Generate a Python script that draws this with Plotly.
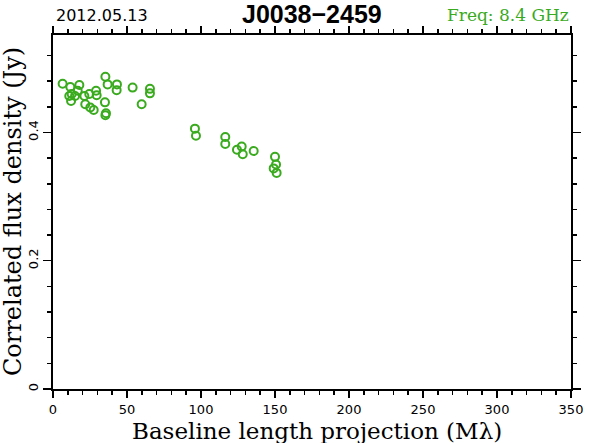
import plotly.graph_objects as go

# Baseline length projection (Mlambda)
baseline = [6.5, 11.7, 17.8, 16.7, 11.0, 12.6, 14.9, 12.2, 21.2, 24.5, 21.8, 25.2,
            27.5, 29.1, 29.5, 35.4, 36.9, 43.2, 43.0, 35.1, 35.8, 35.4, 53.8, 65.5,
            65.5, 59.9,
            95.9, 96.6, 116.4, 116.4, 124.3, 127.5, 128.2, 135.6, 150.0, 150.7,
            149.1, 151.1]
# Correlated flux density (Jy)
flux = [0.476, 0.471, 0.474, 0.465, 0.457, 0.460, 0.457, 0.449, 0.457, 0.460, 0.444, 0.439,
        0.435, 0.465, 0.458, 0.487, 0.475, 0.475, 0.466, 0.447, 0.430, 0.427, 0.470, 0.468,
        0.461, 0.444,
        0.406, 0.395, 0.393, 0.382, 0.373, 0.378, 0.366, 0.371, 0.362, 0.350,
        0.344, 0.337]

x_ticks = [0, 50, 100, 150, 200, 250, 300, 350]
y_ticks = [0, 0.2, 0.4]
y_tick_labels = ["0", "0.2", "0.4"]

GREEN = "#3aaa1e"
SERIF = "DejaVu Serif"
SANS = "DejaVu Sans"

fig = go.Figure()
fig.add_trace(go.Scatter(
    x=baseline, y=flux, mode="markers",
    marker=dict(symbol="circle-open", size=8, color=GREEN,
                line=dict(width=2, color=GREEN)),
    showlegend=False, hoverinfo="skip",
))

axis_common = dict(
    showline=True, linecolor="black", linewidth=2, mirror="ticks",
    ticks="outside", tickcolor="black", tickwidth=1.5,
    showgrid=False, zeroline=False, automargin=False,
    tickfont=dict(family=SANS, size=13, color="black"),
)

fig.update_xaxes(
    range=[0, 350], tickvals=x_ticks, ticklen=7,
    minor=dict(dtick=10, tick0=0, ticks="outside", ticklen=4, tickwidth=1.5,
               tickcolor="black", showgrid=False),
    **axis_common,
)
fig.update_yaxes(
    range=[0, 0.552], tickvals=y_ticks, ticktext=y_tick_labels, ticklen=8,
    tickangle=-90,
    minor=dict(dtick=0.04, tick0=0, ticks="outside", ticklen=4, tickwidth=1.5,
               tickcolor="black", showgrid=False),
    **axis_common,
)

fig.update_layout(
    width=590, height=443,
    margin=dict(l=53, r=19, t=35, b=54, autoexpand=False),
    paper_bgcolor="white", plot_bgcolor="white",
)

# convert pixel positions to paper coords relative to plot area
pl, pr, pt, pb = 53, 571, 35, 389
def ax(xpix):
    return (xpix - pl) / (pr - pl)
def ay(ypix):
    return (pb - ypix) / (pb - pt)

fig.add_annotation(text="<b>J0038\u22122459</b>", x=ax(312), y=ay(14), xref="paper", yref="paper",
                   showarrow=False, font=dict(family="Liberation Sans", size=25, color="black"),
                   xanchor="center", yanchor="middle")
fig.add_annotation(text="2012.05.13", x=ax(54), y=ay(15), xref="paper", yref="paper",
                   showarrow=False, font=dict(family=SANS, size=16, color="black"),
                   xanchor="left", yanchor="middle")
fig.add_annotation(text="Freq: 8.4 GHz", x=ax(571), y=ay(15), xref="paper", yref="paper",
                   showarrow=False, font=dict(family=SERIF, size=17, color=GREEN),
                   xanchor="right", yanchor="middle")
fig.add_annotation(text="Baseline length projection (M\u03bb)", x=ax(317), y=ay(431),
                   xref="paper", yref="paper", showarrow=False,
                   font=dict(family=SERIF, size=23, color="black"),
                   xanchor="center", yanchor="middle")
fig.add_annotation(text="Correlated flux density (Jy)", x=ax(13), y=ay(212),
                   xref="paper", yref="paper", showarrow=False, textangle=-90,
                   font=dict(family=SERIF, size=24, color="black"),
                   xanchor="center", yanchor="middle")

fig.write_html("out.html", post_script="document.body.style.margin='0';",
               config={"displayModeBar": False, "staticPlot": True})
